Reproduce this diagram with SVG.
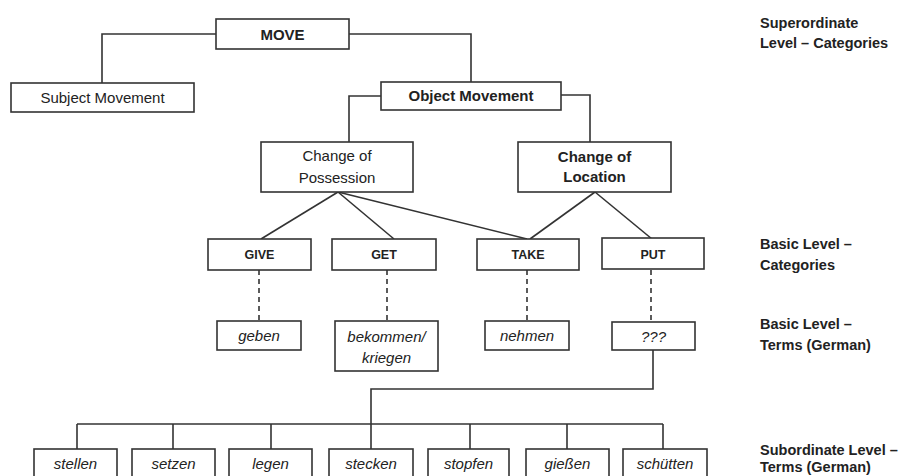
<svg xmlns="http://www.w3.org/2000/svg" width="904" height="476" viewBox="0 0 904 476">
<style>
rect{fill:#fff;stroke:#333;stroke-width:1.6}
.c{fill:none;stroke:#333;stroke-width:1.6}
.d{fill:none;stroke:#333;stroke-width:1.6;stroke-dasharray:5 4}
text{font-family:"Liberation Sans",Arial,sans-serif;fill:#222;text-anchor:middle;font-size:15px}
.b{font-weight:bold}
.s{font-size:12.5px;font-weight:bold}
.i{font-style:italic}
.l{text-anchor:start;font-weight:bold;font-size:14.5px}
</style>
<rect x="0" y="0" width="904" height="476" style="fill:#fff;stroke:none"/>
<g id="connectors">
<polyline class="c" points="216,34 102,34 102,83"/>
<polyline class="c" points="349,34 471,34 471,82"/>
<polyline class="c" points="381,96 349,96 349,142"/>
<polyline class="c" points="561,95 590,95 590,142"/>
<line class="c" x1="338" y1="192" x2="261" y2="239"/>
<line class="c" x1="338" y1="192" x2="394" y2="239"/>
<line class="c" x1="338" y1="192" x2="527" y2="239"/>
<line class="c" x1="595" y1="192" x2="530" y2="239"/>
<line class="c" x1="595" y1="192" x2="652" y2="239"/>
<line class="d" x1="259" y1="270" x2="259" y2="321"/>
<line class="d" x1="387" y1="270" x2="387" y2="321"/>
<line class="d" x1="527" y1="270" x2="527" y2="321"/>
<line class="d" x1="651" y1="270" x2="651" y2="322"/>
<polyline class="c" points="653,350 653,389 371,389 371,449"/>
<line class="c" x1="77" y1="424" x2="663" y2="424"/>
<line class="c" x1="77" y1="424" x2="77" y2="449"/>
<line class="c" x1="173" y1="424" x2="173" y2="449"/>
<line class="c" x1="271" y1="424" x2="271" y2="449"/>
<line class="c" x1="470" y1="424" x2="470" y2="449"/>
<line class="c" x1="567" y1="424" x2="567" y2="449"/>
<line class="c" x1="663" y1="424" x2="663" y2="449"/>
</g>
<g id="move"><rect x="216" y="19" width="133" height="30"/><text class="b" x="282.5" y="39.5">MOVE</text></g>
<g id="subject-movement"><rect x="11" y="83" width="183" height="29"/><text x="102.5" y="103">Subject Movement</text></g>
<g id="object-movement"><rect x="381" y="82" width="180" height="28"/><text class="b" x="471" y="101">Object Movement</text></g>
<g id="change-of-possession"><rect x="261" y="142" width="152" height="50"/><text x="337" y="161">Change of</text><text x="337" y="183">Possession</text></g>
<g id="change-of-location"><rect x="518" y="142" width="153" height="50"/><text class="b" x="594.5" y="162">Change of</text><text class="b" x="594.5" y="182">Location</text></g>
<g id="give"><rect x="208" y="239" width="103" height="31"/><text class="s" x="259.5" y="259">GIVE</text></g>
<g id="get"><rect x="332" y="239" width="104" height="31"/><text class="s" x="384" y="259">GET</text></g>
<g id="take"><rect x="477" y="239" width="102" height="31"/><text class="s" x="528" y="259">TAKE</text></g>
<g id="put"><rect x="602" y="238" width="102" height="31"/><text class="s" x="653" y="258.5">PUT</text></g>
<g id="geben"><rect x="217" y="321" width="84" height="29"/><text class="i" x="259" y="341">geben</text></g>
<g id="bekommen"><rect x="335" y="321" width="103" height="50"/><text class="i" x="386.5" y="342">bekommen/</text><text class="i" x="386.5" y="363">kriegen</text></g>
<g id="nehmen"><rect x="485" y="321" width="84" height="29"/><text class="i" x="527" y="341">nehmen</text></g>
<g id="unknown"><rect x="612" y="322" width="83" height="28"/><text class="i" x="653.5" y="341.5">???</text></g>
<g id="stellen"><rect x="34" y="449" width="83" height="35"/><text class="i" x="75.5" y="468.5">stellen</text></g>
<g id="setzen"><rect x="132" y="449" width="83" height="35"/><text class="i" x="173.5" y="468.5">setzen</text></g>
<g id="legen"><rect x="229" y="449" width="83" height="35"/><text class="i" x="270.5" y="468.5">legen</text></g>
<g id="stecken"><rect x="329" y="449" width="84" height="35"/><text class="i" x="371" y="468.5">stecken</text></g>
<g id="stopfen"><rect x="428" y="449" width="81" height="35"/><text class="i" x="468.5" y="468.5">stopfen</text></g>
<g id="giessen"><rect x="526" y="449" width="83" height="35"/><text class="i" x="567.5" y="468.5">gießen</text></g>
<g id="schuetten"><rect x="623" y="449" width="84" height="35"/><text class="i" x="665" y="468.5">schütten</text></g>
<g id="level-labels">
<text class="l" x="760" y="28">Superordinate</text>
<text class="l" x="760" y="48">Level – Categories</text>
<text class="l" x="760" y="249">Basic Level –</text>
<text class="l" x="760" y="270">Categories</text>
<text class="l" x="760" y="329">Basic Level –</text>
<text class="l" x="760" y="350">Terms (German)</text>
<text class="l" x="760" y="455">Subordinate Level –</text>
<text class="l" x="760" y="472">Terms (German)</text>
</g>
</svg>
